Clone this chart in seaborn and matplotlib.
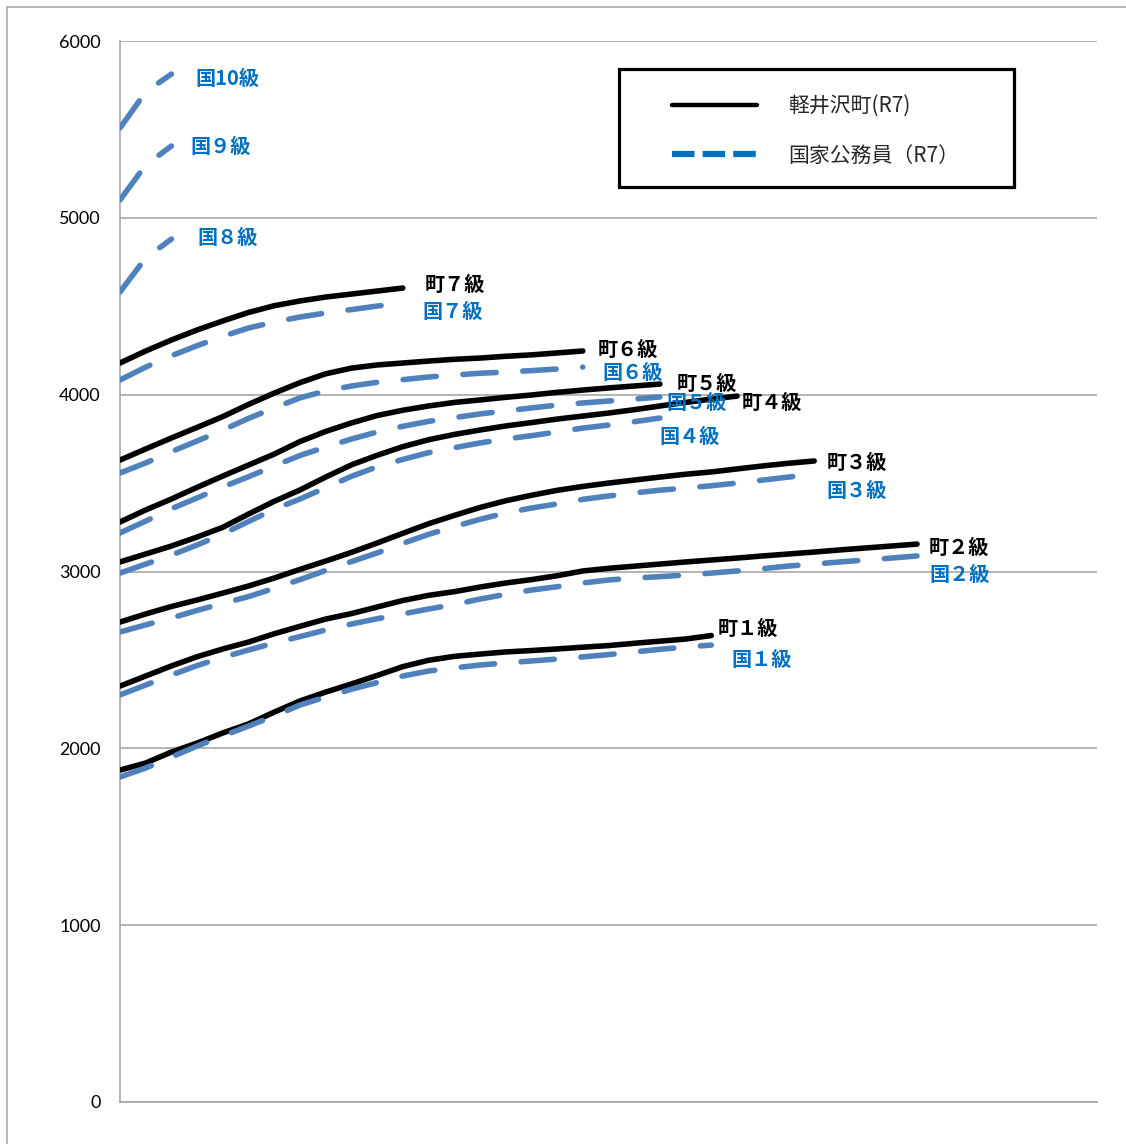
import matplotlib
matplotlib.use('Agg')
import matplotlib.pyplot as plt
import seaborn as sns
from matplotlib.lines import Line2D
from matplotlib.patches import Rectangle

# 号俸 (every 4 steps)
gohou = list(range(1, 126, 4))

# 軽井沢町 (R7) monthly salary, 千円 scale
town_g1 = [1877, 1917, 1979, 2030, 2087, 2138, 2205, 2268, 2318, 2364, 2412, 2462,
           2498, 2520, 2533, 2545, 2553, 2562, 2572, 2581, 2594, 2606, 2618, 2638]
town_g2 = [2352, 2409, 2466, 2518, 2562, 2601, 2648, 2690, 2731, 2762, 2799, 2836,
           2865, 2886, 2912, 2935, 2954, 2976, 3003, 3018, 3030, 3042, 3054, 3065,
           3076, 3088, 3099, 3110, 3122, 3133, 3144, 3155]
town_g3 = [2714, 2760, 2802, 2839, 2878, 2918, 2963, 3012, 3059, 3108, 3161, 3216,
           3270, 3317, 3362, 3400, 3431, 3459, 3481, 3500, 3517, 3534, 3550, 3563,
           3580, 3597, 3612, 3625]
town_g4 = [3054, 3099, 3144, 3195, 3250, 3325, 3397, 3461, 3534, 3603, 3657, 3706,
           3745, 3775, 3800, 3823, 3842, 3862, 3879, 3896, 3915, 3936, 3956, 3975, 3992]
town_g5 = [3280, 3348, 3410, 3476, 3540, 3602, 3664, 3735, 3792, 3840, 3882, 3912,
           3936, 3956, 3970, 3985, 3998, 4013, 4026, 4038, 4049, 4060]
town_g6 = [3630, 3693, 3755, 3815, 3876, 3945, 4009, 4068, 4118, 4150, 4168, 4179,
           4190, 4200, 4207, 4217, 4225, 4236, 4247]
town_g7 = [4179, 4247, 4309, 4366, 4417, 4465, 4503, 4530, 4552, 4569, 4586, 4603]

# 国家公務員 (R7)
kuni_g1 = [1838, 1889, 1951, 2013, 2070, 2126, 2183, 2245, 2290, 2334, 2372, 2409,
           2437, 2455, 2471, 2483, 2494, 2505, 2517, 2530, 2545, 2560, 2573, 2584]
kuni_g2 = [2302, 2358, 2415, 2468, 2515, 2556, 2596, 2632, 2669, 2703, 2733, 2760,
           2788, 2813, 2844, 2871, 2895, 2914, 2935, 2952, 2963, 2971, 2980, 2991,
           3003, 3016, 3031, 3042, 3054, 3065, 3076, 3088]
kuni_g3 = [2658, 2698, 2737, 2780, 2820, 2858, 2905, 2954, 3006, 3056, 3105, 3159,
           3210, 3254, 3295, 3331, 3359, 3382, 3408, 3427, 3444, 3460, 3472, 3485,
           3500, 3517, 3534, 3551]
kuni_g4 = [2991, 3042, 3093, 3150, 3212, 3283, 3352, 3410, 3474, 3538, 3592, 3634,
           3672, 3700, 3727, 3749, 3768, 3789, 3811, 3828, 3847, 3868]
kuni_g5 = [3218, 3285, 3355, 3416, 3478, 3536, 3597, 3656, 3704, 3749, 3789, 3821,
           3849, 3870, 3891, 3908, 3925, 3941, 3953, 3964, 3975, 3987]
kuni_g6 = [3557, 3614, 3678, 3738, 3800, 3866, 3925, 3982, 4021, 4049, 4070, 4085,
           4100, 4111, 4121, 4128, 4136, 4145, 4156]
kuni_g7 = [4083, 4156, 4220, 4277, 4330, 4377, 4411, 4439, 4462, 4481, 4501, 4518]
kuni_g8 = [4581, 4773, 4880]
kuni_g9 = [5101, 5299, 5406]
kuni_g10 = [5508, 5712, 5813]

# (values, kind, label, label offset in px)
series = [
    (town_g1, 'town', '町１級', (6, 7)),
    (town_g2, 'town', '町２級', (12, -3)),
    (town_g3, 'town', '町３級', (12, -2)),
    (town_g4, 'town', '町４級', (5, -6)),
    (town_g5, 'town', '町５級', (17, 1)),
    (town_g6, 'town', '町６級', (15, 2)),
    (town_g7, 'town', '町７級', (22, 4)),
    (kuni_g1, 'kuni', '国１級', (20, -14)),
    (kuni_g2, 'kuni', '国２級', (12, -19)),
    (kuni_g3, 'kuni', '国３級', (12, -16)),
    (kuni_g4, 'kuni', '国４級', (0, -18)),
    (kuni_g5, 'kuni', '国５級', (7, -6)),
    (kuni_g6, 'kuni', '国６級', (20, -5)),
    (kuni_g7, 'kuni', '国７級', (20, -8)),
    (kuni_g8, 'kuni', '国８級', (26, 2)),
    (kuni_g9, 'kuni', '国９級', (19, 0)),
    (kuni_g10, 'kuni', '国10級', (24, -4)),
]

sns.set_style('white')
plt.rcParams['font.family'] = ['Noto Sans CJK JP', 'DejaVu Sans']

W, H = 1126, 1144
fig = plt.figure(figsize=(W / 100, H / 100), dpi=100)
ax = fig.add_axes([120 / W, 1 - 1102 / H, 977 / W, 1061 / H])

for vals, kind, name, (dx, dy) in series:
    xs = gohou[:len(vals)]
    if kind == 'town':
        sns.lineplot(x=xs, y=vals, ax=ax, color='black', linewidth=4.0,
                     solid_capstyle='round', solid_joinstyle='round', zorder=3)
        tcol = 'black'
    else:
        sns.lineplot(x=xs, y=vals, ax=ax, color='#4F81BD', linewidth=4.0,
                     linestyle=(0, (6.0, 4.8)), dash_capstyle='round', zorder=3)
        tcol = '#0070C0'
    ax.annotate(name, xy=(xs[-1], vals[-1]), xytext=(dx, dy), textcoords='offset pixels',
                ha='left', va='center', fontsize=14.5, fontweight='bold', color=tcol, zorder=4)

ax.set_xlim(1, 153)
ax.set_ylim(0, 6000)
ax.set_xticks([])
ax.set_yticks(range(0, 6001, 1000))
ax.set_xlabel('')
ax.set_ylabel('')
ax.yaxis.grid(True, color='#A0A0A0', linewidth=1.1)
ax.set_axisbelow(True)
ax.tick_params(axis='y', length=0, pad=14, labelsize=13, labelcolor='black')
for lbl in ax.get_yticklabels():
    lbl.set_fontfamily('Lato')
for side in ['top', 'right']:
    ax.spines[side].set_visible(False)
for side in ['left', 'bottom']:
    ax.spines[side].set_color('#A0A0A0')
    ax.spines[side].set_linewidth(1.1)

# legend with a hand drawn frame
frame = Rectangle((499 / 977, 915 / 1061), 395 / 977, 118 / 1061, transform=ax.transAxes,
                  facecolor='white', edgecolor='black', linewidth=2.3, zorder=5)
ax.add_patch(frame)
h_town = Line2D([], [], color='black', linewidth=3.2)
h_kuni = Line2D([], [], color='#0070C0', linewidth=4.5, linestyle=(0, (3.6, 1.3)),
                dash_capstyle='butt')
leg = ax.legend([h_town, h_kuni], ['軽井沢町(R7)', '国家公務員（R7）'],
                loc='center left', bbox_to_anchor=(552 / 977, 971 / 1061),
                frameon=False, fontsize=15, borderpad=0, borderaxespad=0,
                handlelength=4.1, handletextpad=1.5, labelspacing=1.32)
leg.set_zorder(6)

# outer chart border
fig.add_artist(Rectangle((7 / W, -0.1), 1.2, 1.1 - 7 / H, transform=fig.transFigure,
                         fill=False, edgecolor='#A0A0A0', linewidth=1.1))

fig.savefig('out.png', dpi=100)
